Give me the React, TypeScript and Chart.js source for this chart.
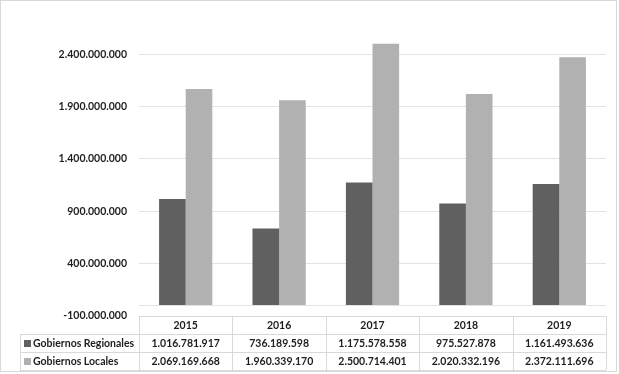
import React, { useEffect, useRef } from 'react';
import { Chart, registerables } from 'chart.js';

Chart.register(...registerables);

const years = ['2015', '2016', '2017', '2018', '2019'];
const seriesNames = ['Gobiernos Regionales', 'Gobiernos Locales'];
const regionales = [1016781917, 736189598, 1175578558, 975527878, 1161493636];
const locales = [2069169668, 1960339170, 2500714401, 2020332196, 2372111696];
const yTicks = [-100000000, 0, 400000000, 900000000, 1400000000, 1900000000, 2400000000];
const yMin = -100000000;
const yMax = 2744000000;

const colors = ['#606060', '#b1b1b1'];
const FONT = 'Lato';
const FSIZE = 10.5;
const TEXT = '#1e1e1e';
const LINE = '#d9d9d9';

function fmt(v: number): string {
  const s = Math.abs(Math.round(v)).toString().replace(/\B(?=(\d{3})+(?!\d))/g, '.');
  return (v < 0 ? '-' : '') + s;
}

const tablePlugin = {
  id: 'dataTable',
  afterDraw(chart: any) {
    const { ctx, chartArea, scales } = chart;
    const xs = scales.x;
    const n = years.length;
    const w = (chartArea.right - chartArea.left) / n;
    const top = chartArea.bottom;
    const rowH = 18;
    const legendLeft = 20;
    const yy = (v: number) => Math.round(v) + 0.5;
    ctx.save();
    ctx.strokeStyle = LINE;
    ctx.lineWidth = 1;
    const line = (x1: number, y1: number, x2: number, y2: number) => {
      ctx.beginPath();
      ctx.moveTo(x1, y1);
      ctx.lineTo(x2, y2);
      ctx.stroke();
    };
    line(chartArea.left, yy(top), chartArea.right, yy(top));
    for (let r = 1; r <= 3; r++) {
      line(legendLeft, yy(top + r * rowH), chartArea.right, yy(top + r * rowH));
    }
    line(yy(legendLeft), top + rowH, yy(legendLeft), top + 3 * rowH);
    for (let i = 0; i <= n; i++) {
      const xb = i < n ? xs.getPixelForValue(i) - w / 2 : xs.getPixelForValue(n - 1) + w / 2;
      line(yy(xb), top, yy(xb), top + 3 * rowH);
    }
    ctx.fillStyle = TEXT;
    ctx.font = `bold ${FSIZE}px ${FONT}`;
    ctx.textBaseline = 'middle';
    ctx.textAlign = 'center';
    const data = [regionales, locales];
    for (let i = 0; i < n; i++) {
      const cx = xs.getPixelForValue(i);
      ctx.fillText(years[i], cx, top + rowH / 2 + 0.5);
      for (let s = 0; s < 2; s++) {
        ctx.fillText(fmt(data[s][i]), cx, top + rowH * (s + 1) + rowH / 2 + 0.5);
      }
    }
    ctx.textAlign = 'left';
    for (let s = 0; s < 2; s++) {
      const cy = top + rowH * (s + 1) + rowH / 2;
      ctx.fillStyle = colors[s];
      ctx.fillRect(24, Math.round(cy - 3.5), 7, 7);
      ctx.fillStyle = TEXT;
      ctx.fillText(seriesNames[s], 33, cy + 0.5);
    }
    ctx.strokeStyle = LINE;
    ctx.strokeRect(0.5, 0.5, 616, 371);
    ctx.restore();
  },
};

export default function App() {
  const ref = useRef<HTMLCanvasElement>(null);
  useEffect(() => {
    if (!ref.current) return;
    const chart = new Chart(ref.current, {
      type: 'bar',
      data: {
        labels: years,
        datasets: [
          { label: seriesNames[0], data: regionales, backgroundColor: colors[0], borderWidth: 0 },
          { label: seriesNames[1], data: locales, backgroundColor: colors[1], borderWidth: 0 },
        ],
      },
      options: {
        animation: false,
        responsive: false,
        devicePixelRatio: 1,
        layout: { padding: { left: 0, right: 13, top: 5, bottom: 58 } },
        datasets: { bar: { categoryPercentage: 0.57, barPercentage: 1.0 } },
        plugins: { legend: { display: false }, tooltip: { enabled: false } },
        scales: {
          x: { display: false },
          y: {
            min: yMin,
            max: yMax,
            afterBuildTicks: (scale: any) => {
              scale.ticks = yTicks.map((v) => ({ value: v }));
            },
            afterFit: (scale: any) => {
              scale.width = 139;
            },
            grid: { color: '#e3e3e3', drawTicks: false, lineWidth: 1 },
            border: { display: false },
            ticks: {
              padding: 12,
              color: TEXT,
              font: { family: FONT, size: FSIZE, weight: 'bold' },
              callback: (v: any) => (Number(v) === 0 ? '' : fmt(Number(v))),
            },
          },
        },
      } as any,
      plugins: [tablePlugin],
    });
    return () => chart.destroy();
  }, []);
  return (
    <div style={{ position: 'absolute', left: 0, top: 0, width: 619, height: 374 }}>
      <canvas ref={ref} width={619} height={374} />
    </div>
  );
}
